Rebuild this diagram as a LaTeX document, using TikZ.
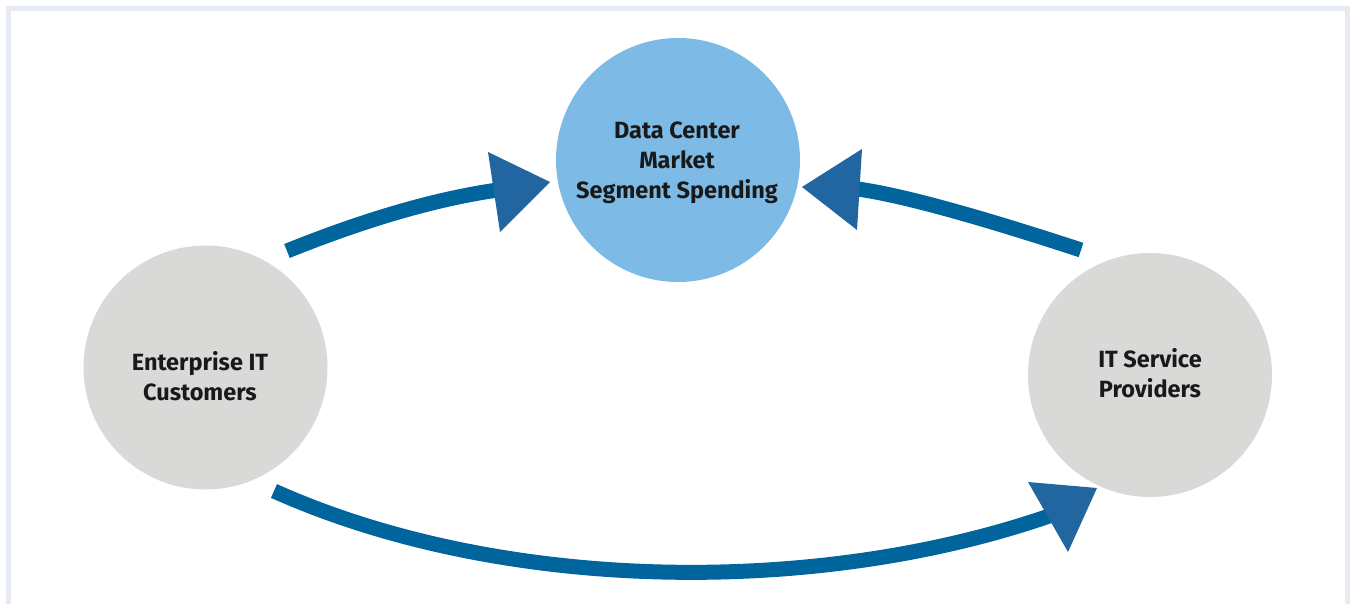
\documentclass[tikz,border=0pt]{standalone}
\usepackage{fontspec}
\setmainfont{Fira Sans}
\definecolor{frame}{HTML}{E6EBF2}
\definecolor{shaft}{HTML}{00659C}
\definecolor{head}{HTML}{2166A0}
\definecolor{dcblue}{HTML}{7DBBE6}
\definecolor{grey}{HTML}{D9D9D8}
\begin{document}
\begin{tikzpicture}[x=1pt,y=-1pt,
  bubble/.style={circle,minimum size=244pt,inner sep=0pt},
  lbl/.style={align=center,font=\fontsize{23.5}{30}\selectfont\bfseries,text=black!90},
  shaftline/.style={draw=shaft,line width=15pt,line cap=butt},
  headtri/.style={fill=head}]
\useasboundingbox (0,0) rectangle (1351,604);
% frame
\draw[frame,line width=5pt] (8.5,610) -- (8.5,8.5) -- (1347,8.5) -- (1347,610);
% circles
\node[bubble,fill=dcblue] (dc) at (678,160) {};
\node[bubble,fill=grey] (ent) at (205.5,367.5) {};
\node[bubble,fill=grey] (its) at (1150,375) {};
\node[lbl] (dct) at (677,162.5) {Data Center\\Market\\Segment Spending};
\node[lbl] (entt) at (200,376) {Enterprise IT\\Customers};
\node[lbl] (itst) at (1150,373) {IT Service\\Providers};
% arrow 1: enterprise -> data center
\coordinate (a1s) at (287,251);
\coordinate (a1e) at (505,189);
\coordinate (a1t) at (550,182);
\coordinate (a1b1) at (488,152);
\coordinate (a1b2) at (500,232);
\draw[shaftline] (a1s) .. controls (370,217.5) and (443,197) .. (a1e);
\fill[headtri] (a1b1) -- (a1t) -- (a1b2) -- cycle;
% arrow 2: IT service -> data center
\coordinate (a2s) at (1081,250);
\coordinate (a2e) at (850,188);
\coordinate (a2t) at (802,187);
\coordinate (a2b1) at (862,149);
\coordinate (a2b2) at (857,230);
\draw[shaftline] (a2s) .. controls (971,214) and (894,193) .. (a2e);
\fill[headtri] (a2b1) -- (a2t) -- (a2b2) -- cycle;
% arrow 3: enterprise -> IT service
\coordinate (a3s) at (274,491);
\coordinate (a3e) at (1052,515);
\coordinate (a3t) at (1097,488);
\coordinate (a3b1) at (1028,482);
\coordinate (a3b2) at (1068,552);
\draw[shaftline] (a3s) .. controls (504,594) and (820,596) .. (a3e);
\fill[headtri] (a3b1) -- (a3t) -- (a3b2) -- cycle;
\end{tikzpicture}
\end{document}
